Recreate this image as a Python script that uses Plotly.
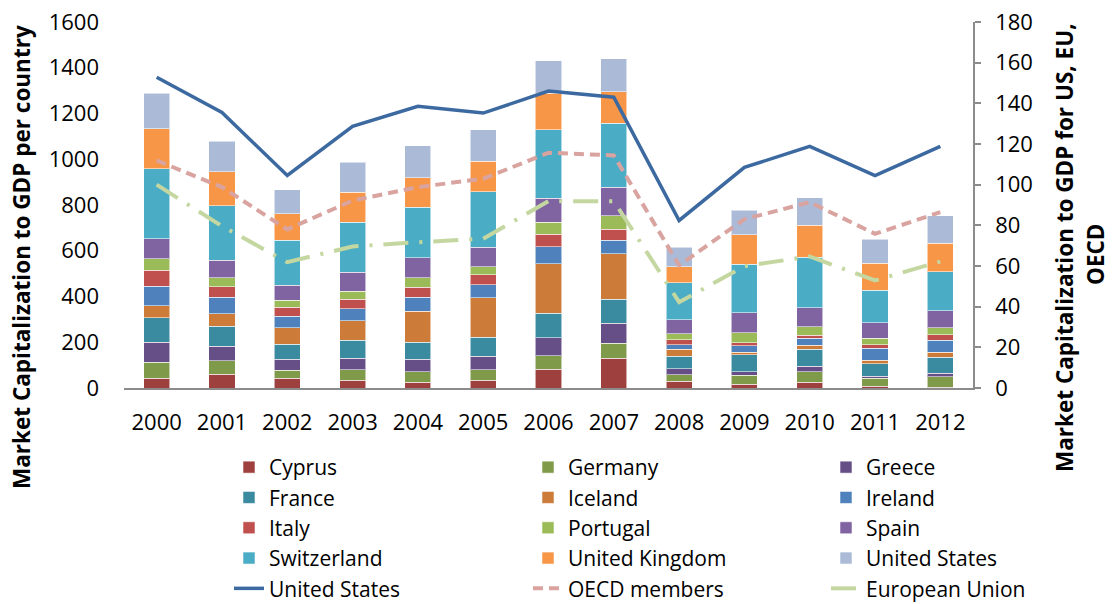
import plotly.graph_objects as go

years = ["2000", "2001", "2002", "2003", "2004", "2005", "2006",
         "2007", "2008", "2009", "2010", "2011", "2012"]

cyprus      = [42, 61, 42, 34, 26, 34, 82, 131, 29, 16, 25, 7, 4]
germany     = [70, 58, 36, 45, 44, 45, 60, 64, 29, 39, 45, 35, 45]
greece      = [87, 63, 47, 52, 55, 60, 77, 87, 26, 17, 25, 10, 15]
france      = [109, 89, 67, 77, 76, 83, 108, 106, 54, 74, 74, 55, 70]
iceland     = [51, 54, 71, 85, 134, 172, 217, 200, 32, 10, 17, 15, 22]
ireland     = [85, 71, 51, 54, 61, 57, 73, 57, 20, 29, 31, 52, 52]
italy       = [70, 47, 38, 41, 44, 44, 55, 48, 20, 12, 13, 16, 25]
portugal    = [51, 39, 32, 36, 41, 35, 52, 60, 28, 45, 38, 28, 31]
spain       = [87, 77, 66, 82, 89, 86, 106, 124, 60, 87, 83, 68, 74]
switzerland = [307, 237, 195, 219, 220, 243, 299, 281, 163, 213, 221, 141, 170]
uk          = [175, 149, 117, 131, 130, 133, 159, 138, 70, 128, 140, 119, 124]
us_bar      = [154, 134, 105, 130, 138, 137, 143, 143, 85, 108, 119, 105, 121]

us_line   = [152.8, 135.5, 104.5, 128.7, 138.5, 135.2, 146.0, 143.0, 82.4, 108.5, 118.8, 104.5, 118.8]
oecd_line = [111.9, 98.8, 78.0, 92.2, 98.8, 102.9, 115.7, 114.4, 60.3, 83.0, 91.4, 75.8, 86.5]
eu_line   = [100.0, 79.6, 61.9, 69.6, 71.7, 73.4, 91.9, 91.9, 42.2, 59.9, 64.7, 52.9, 62.2]

bar_series = [
    ("Cyprus", cyprus, "#9E413E", "legend"),
    ("Germany", germany, "#7F9A48", "legend2"),
    ("Greece", greece, "#664F87", "legend3"),
    ("France", france, "#3B8BA0", "legend"),
    ("Iceland", iceland, "#CC7B38", "legend2"),
    ("Ireland", ireland, "#4F81BD", "legend3"),
    ("Italy", italy, "#C0504D", "legend"),
    ("Portugal", portugal, "#9BBB59", "legend2"),
    ("Spain", spain, "#8064A2", "legend3"),
    ("Switzerland", switzerland, "#4BACC6", "legend"),
    ("United Kingdom", uk, "#F79646", "legend2"),
    ("United States", us_bar, "#AABAD7", "legend3"),
]

FONT = "Open Sans"

fig = go.Figure()
for name, vals, color, lg in bar_series:
    fig.add_trace(go.Bar(
        x=years, y=vals, name=name, legend=lg,
        marker=dict(color=color, line=dict(color="rgba(255,255,255,0.55)", width=1)),
    ))

fig.add_trace(go.Scatter(
    x=years, y=us_line, name="United States", yaxis="y2", mode="lines",
    legend="legend", line=dict(color="#3C69A0", width=3.5)))
fig.add_trace(go.Scatter(
    x=years, y=oecd_line, name="OECD members", yaxis="y2", mode="lines",
    legend="legend2", line=dict(color="#D9A3A0", width=4, dash="10px,6px")))
fig.add_trace(go.Scatter(
    x=years, y=eu_line, name="European Union", yaxis="y2", mode="lines",
    legend="legend3", line=dict(color="#C4D7A0", width=4, dash="25px,11px,3px,11px")))

W, H = 1113, 604
L, R, T, B = 124, 140, 22, 216
pw, ph = W - L - R, H - T - B


def px(xp):
    return (xp - L) / pw


def py(yp):
    return (H - B - yp) / ph


legend_common = dict(
    orientation="v", traceorder="normal", font=dict(family=FONT, size=21, color="#000"),
    bgcolor="rgba(0,0,0,0)", borderwidth=0, xanchor="left", yanchor="top",
    itemwidth=30, tracegroupgap=0,
)

fig.update_layout(
    width=W, height=H,
    margin=dict(l=L, r=R, t=T, b=B, autoexpand=False),
    paper_bgcolor="white", plot_bgcolor="white",
    font=dict(family=FONT, size=22, color="#000"),
    barmode="stack", bargap=0.6,
    xaxis=dict(
        type="category", showgrid=False, showline=True, linecolor="#8C8C8C", linewidth=1.5,
        ticks="", tickfont=dict(size=22), ticklabelstandoff=14,
    ),
    yaxis=dict(
        range=[0, 1600], dtick=200, showgrid=False, showline=False, ticks="",
        zeroline=False, tickfont=dict(size=22), ticklabelstandoff=24,
    ),
    yaxis2=dict(
        range=[0, 180], dtick=20, overlaying="y", side="right", showgrid=False,
        showline=True, linecolor="#8C8C8C", linewidth=1.5, ticks="outside", ticklen=6,
        tickcolor="#8C8C8C", tickwidth=1.5, zeroline=False, tickfont=dict(size=22),
        ticklabelstandoff=10,
    ),
    legend=dict(x=px(229), y=py(447), **legend_common),
    legend2=dict(x=px(528), y=py(447), **legend_common),
    legend3=dict(x=px(826), y=py(447), **legend_common),
    showlegend=True,
    annotations=[
        dict(text="<b>Market Capitalization to GDP per country</b>", textangle=-90,
             xref="paper", yref="paper", x=px(21), y=py(257), showarrow=False,
             xanchor="center", yanchor="middle", font=dict(family=FONT, size=22.5, color="#000")),
        dict(text="<b>Market Capitalization to GDP for US, EU,</b>", textangle=-90,
             xref="paper", yref="paper", x=px(1064), y=py(248), showarrow=False,
             xanchor="center", yanchor="middle", font=dict(family=FONT, size=22.5, color="#000")),
        dict(text="<b>OECD</b>", textangle=-90,
             xref="paper", yref="paper", x=px(1095), y=py(254), showarrow=False,
             xanchor="center", yanchor="middle", font=dict(family=FONT, size=22.5, color="#000")),
    ],
)

fig.write_html("out.html", config={"displayModeBar": False},
               post_script="document.body.style.margin='0px';")
